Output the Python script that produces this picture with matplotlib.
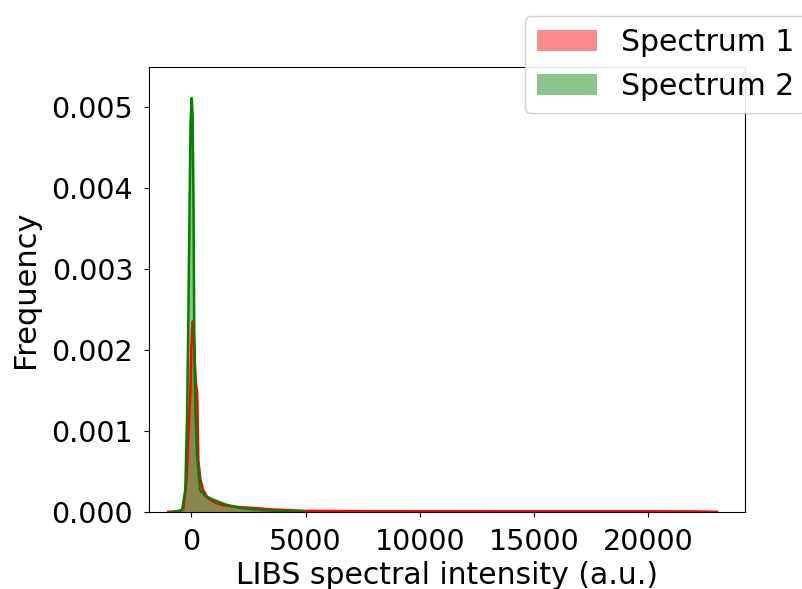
import matplotlib
matplotlib.use("Agg")
import matplotlib.pyplot as plt

# KDE curves (intensity, density)
spec1_x = [-1000, -600, -350, -200, -100, -40, 0, 60, 100, 150, 200, 260, 310,
           400, 520, 700, 1000, 1400, 2000, 2600, 3500, 5000, 8000, 12000,
           16000, 20000, 22000, 23000]
spec1_y = [0, 0.000005, 0.00003, 0.0004, 0.0011, 0.00147, 0.0020, 0.00235,
           0.0023, 0.0019, 0.0016, 0.00147, 0.00064, 0.00040, 0.00027, 0.00018,
           0.00012, 0.00008, 0.00006, 0.00005, 0.00003, 0.000012, 0.000008,
           0.000007, 0.000006, 0.000006, 0.000005, 0]

spec2_x = [-800, -400, -260, -180, -130, -80, -30, 20, 60, 100, 130, 180, 250,
           390, 600, 960, 1500, 2140, 3000, 4000, 5000]
spec2_y = [0, 0.00002, 0.00027, 0.0012, 0.0023, 0.0036, 0.0048, 0.00511,
           0.0049, 0.0038, 0.0023, 0.0013, 0.0007, 0.00027, 0.0002, 0.00015,
           0.00009, 0.00005, 0.00002, 0.00001, 0]

labels = ["Spectrum 1", "Spectrum 2"]
colors = ["red", "green"]

fig = plt.figure(figsize=(8.02, 5.89), dpi=100)
ax = fig.add_axes([0.186, 0.131, 0.743, 0.755])

handles = []
for xs, ys, c, lab in zip([spec1_x, spec2_x], [spec1_y, spec2_y], colors, labels):
    h = ax.fill_between(xs, ys, color=c, alpha=0.45, linewidth=0, label=lab)
    ax.plot(xs, ys, color=c, linewidth=1.8)
    handles.append(h)

ax.set_xlim(-1840, 24230)
ax.set_ylim(0, 0.00549)
ax.set_xticks([0, 5000, 10000, 15000, 20000])
ax.set_yticks([0, 0.001, 0.002, 0.003, 0.004, 0.005])
ax.tick_params(labelsize=20.5, pad=8)
ax.set_xlabel("LIBS spectral intensity (a.u.)", fontsize=21.5, labelpad=4)
ax.set_ylabel("Frequency", fontsize=22, labelpad=8)

fig.legend(handles=handles, labels=labels, loc="upper left",
           bbox_to_anchor=(0.655, 0.973), borderaxespad=0, fontsize=21.5,
           framealpha=0.9)

fig.savefig("out.png", dpi=100)
